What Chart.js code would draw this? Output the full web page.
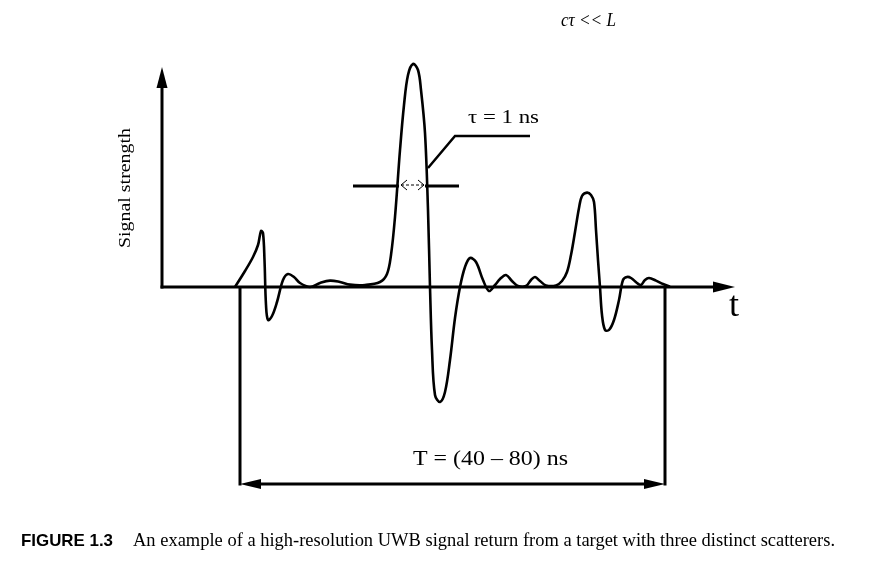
<!DOCTYPE html>
<html><head><meta charset="utf-8">
<script src="https://cdn.jsdelivr.net/npm/chart.js@4"></script>
<style>html,body{margin:0;padding:0;background:#fff;overflow:hidden}canvas{display:block}</style>
</head><body>
<canvas id="c" width="882" height="569"></canvas>
<script>
// ---- data (arbitrary time units along t, arbitrary signal-strength units) ----
const timeUnits = [14.6,16.6,18.2,19.2,19.8,20.2,20.5,20.8,21.2,22,23,24.2,25.2,26.4,27.6,29.6,31.6,33.6,35.6,37.6,40.6,43.6,45,45.8,46.6,47.6,48.4,49.2,50.2,51.2,51.8,52.6,53.2,53.6,54,54.6,55.6,56.6,57.6,58.6,59.6,60.6,61.6,62.8,64.2,65.4,66.6,67.6,68.8,70,71.2,72.8,73.8,74.6,75.6,76.8,78.8,80,81,81.8,82.6,83.4,84,85,85.8,86.4,86.8,87.2,87.6,88,88.6,89.4,90.4,91.4,92.2,93,93.8,95,95.8,96.6,97.4,98.8,100.2,101.6];
const signalStrength = [0,8,15,21,28,27,13.5,-9,-16.5,-14.5,-7.5,3.5,6.5,5,2,0,2,3.2,2.5,1.2,1,2.5,6.5,16,35,68.5,91,106,111.5,108.5,98.5,77,38.5,0,-31.5,-54,-57.5,-52.5,-36.5,-15.5,0,10,14.5,12.5,3.5,-2,1,4,6,3,0.5,0.5,3.5,5,3,0.8,0.8,3,7.5,16,27.5,39.5,45.5,47.2,46,42.5,28.5,13.5,0,-14,-21.5,-21.5,-16.5,-6.5,3.5,5,4.5,2,1,3.5,4.5,3.2,1.5,0.2];

const xAxisLabel = 't';
const yAxisLabel = 'Signal strength';
const timeWindow = [15.6, 100.6];            // start / end of the return window
const windowLabel = 'T = (40 \u2013 80) ns';
const pulseWidthMarks = [38.2, 47.6, 52.8, 59.4]; // line start, pulse edges, line end
const pulseWidthLevel = 50.5;
const pulseLabel = '\u03c4 = 1 ns';
const conditionLabel = 'c\u03c4 << L';
const captionNumber = 'FIGURE 1.3';
const captionText = 'An example of a high-resolution UWB signal return from a target with three distinct scatterers.';

const axisEnds = [114.6, 110]; // t-axis arrow tip, strength-axis arrow tip

function tri(ctx, tx, ty, dx, dy, len, hw){
  const bx = tx - dx*len, by = ty - dy*len;
  ctx.beginPath();
  ctx.moveTo(tx, ty);
  ctx.lineTo(bx - dy*hw, by + dx*hw);
  ctx.lineTo(bx + dy*hw, by - dx*hw);
  ctx.closePath();
  ctx.fill();
}
function seg(ctx, x1, y1, x2, y2){ ctx.beginPath(); ctx.moveTo(x1,y1); ctx.lineTo(x2,y2); ctx.stroke(); }
function fitText(ctx, text, x, y, width, font, align){
  ctx.save();
  ctx.font = font;
  const w = ctx.measureText(text).width;
  const s = width / w;
  ctx.translate(x, y);
  ctx.scale(s, 1);
  ctx.textAlign = align || 'left';
  ctx.textBaseline = 'alphabetic';
  ctx.fillText(text, 0, 0);
  ctx.restore();
}

const figurePlugin = {
  id: 'figure',
  beforeDatasetsDraw(chart){
    const {ctx, scales:{x, y}} = chart;
    const X = v => x.getPixelForValue(v), Y = v => y.getPixelForValue(v);
    ctx.save();
    ctx.strokeStyle = '#000'; ctx.fillStyle = '#000'; ctx.lineWidth = 3; ctx.lineCap = 'butt';
    const x0 = X(0), y0 = Y(0);
    // t axis
    const xe = X(axisEnds[0]);
    seg(ctx, x0 - 1.5, y0, xe - 15, y0);
    tri(ctx, xe, y0, 1, 0, 22, 5.5);
    // strength axis
    const ye = Y(axisEnds[1]);
    seg(ctx, x0, y0 + 1.5, x0, ye + 15);
    tri(ctx, x0, ye, 0, -1, 21, 5.5);
    // time window
    const ws = X(timeWindow[0]), we = X(timeWindow[1]);
    const yb = Y(-98.5);
    seg(ctx, ws, y0, ws, yb + 1.5);
    seg(ctx, we, y0, we, yb + 1.5);
    seg(ctx, ws + 10, yb, we - 10, yb);
    tri(ctx, ws, yb, -1, 0, 21, 5);
    tri(ctx, we, yb, 1, 0, 21, 5);
    ctx.restore();
  },
  afterDatasetsDraw(chart){
    const {ctx, scales:{x, y}} = chart;
    const X = v => x.getPixelForValue(v), Y = v => y.getPixelForValue(v);
    ctx.save();
    ctx.strokeStyle = '#000'; ctx.fillStyle = '#000';
    // pulse width marker
    const yl = Y(pulseWidthLevel);
    ctx.lineWidth = 3;
    seg(ctx, X(pulseWidthMarks[0]), yl, X(pulseWidthMarks[1]) - 1, yl);
    seg(ctx, X(pulseWidthMarks[2]) - 1, yl, X(pulseWidthMarks[3]), yl);
    ctx.lineWidth = 1;
    const a1 = X(pulseWidthMarks[1]) + 1, a2 = X(pulseWidthMarks[2]) - 2;
    ctx.setLineDash([3, 2]);
    seg(ctx, a1, yl - 1, a2, yl - 1);
    ctx.setLineDash([]);
    ctx.beginPath();
    ctx.moveTo(a1 + 6, yl - 6); ctx.lineTo(a1, yl - 1); ctx.lineTo(a1 + 6, yl + 4);
    ctx.moveTo(a2 - 6, yl - 6); ctx.lineTo(a2, yl - 1); ctx.lineTo(a2 - 6, yl + 4);
    ctx.stroke();
    // leader line to label
    ctx.lineWidth = 2.5;
    ctx.beginPath();
    ctx.moveTo(X(53.2), Y(59.5));
    ctx.lineTo(X(58.6), Y(75.5));
    ctx.lineTo(X(73.6), Y(75.5));
    ctx.stroke();
    // labels
    fitText(ctx, pulseLabel, X(61.2), Y(82), 71, '18px "Liberation Serif"');
    fitText(ctx, windowLabel, X(50.2), Y(-89), 155, '20px "Liberation Serif"');
    fitText(ctx, xAxisLabel, X(113.4), Y(-14.5), 10, '36px "Liberation Serif"');
    // y axis label
    ctx.save();
    ctx.translate(X(0) - 32, Y(49.5));
    ctx.rotate(-Math.PI / 2);
    fitText(ctx, yAxisLabel, 0, 0, 120, '17px "Liberation Serif"', 'center');
    ctx.restore();
    // top condition
    fitText(ctx, conditionLabel, 561, 26, 55, 'italic 18px "Liberation Serif"');
    // caption
    fitText(ctx, captionNumber, 21, 546, 92, 'bold 17px "Liberation Sans"');
    fitText(ctx, captionText, 133, 546, 702, '18px "Liberation Serif"');
    ctx.restore();
  }
};

new Chart(document.getElementById('c'), {
  type: 'line',
  data: {
    datasets: [{
      data: timeUnits.map((t, i) => ({x: t, y: signalStrength[i]})),
      borderColor: '#000',
      borderWidth: 2.6,
      pointRadius: 0,
      tension: 0.35,
      fill: false,
      clip: false
    }]
  },
  options: {
    responsive: false,
    animation: false,
    devicePixelRatio: 1,
    layout: { padding: { left: 162, right: 147, top: 57, bottom: 162 } },
    plugins: { legend: { display: false }, tooltip: { enabled: false } },
    scales: {
      x: { type: 'linear', min: 0, max: 114.6, display: false },
      y: { type: 'linear', min: -60, max: 115, display: false }
    }
  },
  plugins: [figurePlugin]
});
</script>
</body></html>
